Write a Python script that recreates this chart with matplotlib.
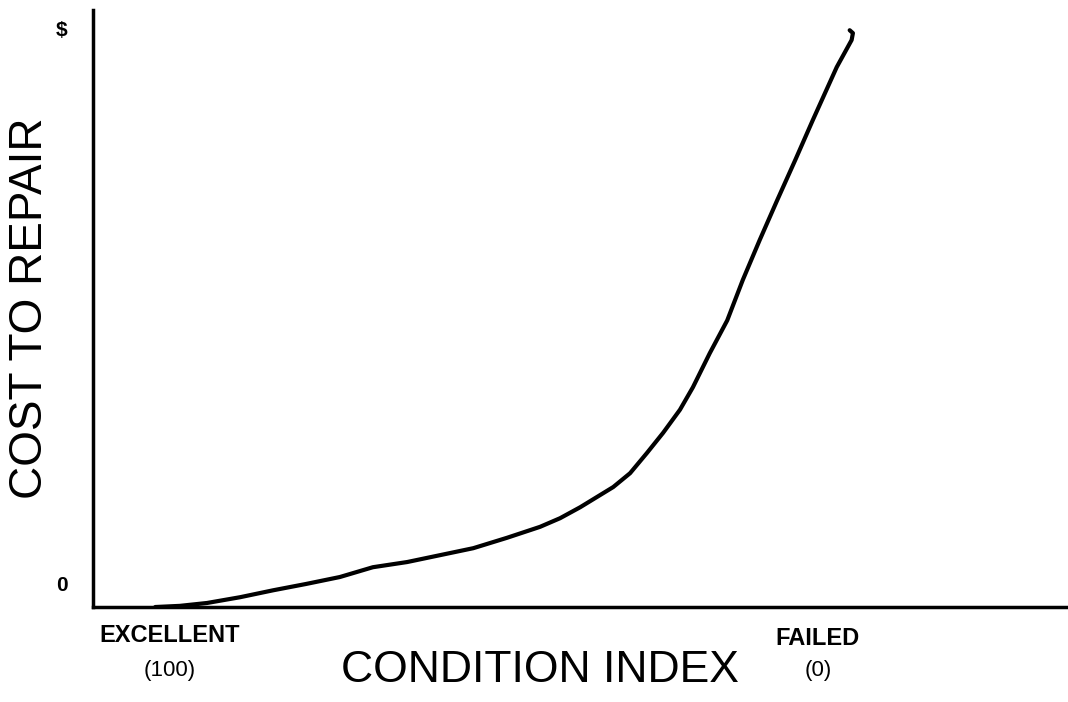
#cost to repair vs condition index sketch
import matplotlib
matplotlib.use("Agg")
import matplotlib.pyplot as plt

plt.rcParams['font.family'] = ['Liberation Sans', 'DejaVu Sans']

# condition index (100 = excellent, 0 = failed) and relative cost to repair ($ = 1)
condition_index = [102.3, 98.5, 94.3, 89.2, 84.1, 79.0, 73.8, 68.7, 63.4, 58.3,
                   53.2, 48.0, 42.9, 39.8, 36.7, 31.6, 29.0, 26.4, 23.9, 21.3,
                   19.3, 16.7, 14.0, 11.6, 9.0, 6.3, 3.5, 0.8, -2.9, -5.2,
                   -5.4, -4.9]
repair_cost = [0.0, 0.002, 0.007, 0.017, 0.029, 0.040, 0.052, 0.069, 0.078, 0.090,
               0.102, 0.120, 0.139, 0.154, 0.173, 0.208, 0.232, 0.267, 0.302, 0.342,
               0.381, 0.440, 0.497, 0.567, 0.636, 0.705, 0.775, 0.844, 0.936, 0.983,
               0.995, 1.0]

fig = plt.figure(figsize=(10.68, 7.02), dpi=100)
ax = fig.add_axes([0.0871, 0.1353, 0.9129, 0.8504])

ax.plot(condition_index, repair_cost, color="black", lw=3.0,
        solid_capstyle="round", solid_joinstyle="round")

ax.set_xlim(111.9, -38.6)
ax.set_ylim(0, 1.035)
ax.set_xticks([])
ax.set_yticks([])
for s in ["top", "right"]:
    ax.spines[s].set_visible(False)
for s in ["left", "bottom"]:
    ax.spines[s].set_linewidth(2.5)

# end labels
ytr = ax.get_yaxis_transform()
xtr = ax.get_xaxis_transform()
ax.text(-0.032, 1.0, "$", transform=ytr, ha="center", va="center", fontsize=15, fontweight="bold")
ax.text(-0.032, 0.038, "0", transform=ytr, ha="center", va="center", fontsize=15, fontweight="bold")

ax.text(100, -0.048, "EXCELLENT", transform=xtr, ha="center", va="center", fontsize=17, fontweight="bold")
ax.text(100, -0.106, "(100)", transform=xtr, ha="center", va="center", fontsize=16)
ax.text(0, -0.052, "FAILED", transform=xtr, ha="center", va="center", fontsize=17, fontweight="bold")
ax.text(0, -0.106, "(0)", transform=xtr, ha="center", va="center", fontsize=16)

fig.text(540/1068, 1-671/702, "CONDITION INDEX", ha="center", va="center", fontsize=32)
fig.text(30/1068, 1-308/702, "COST TO REPAIR", ha="center", va="center", rotation=90, fontsize=33)

plt.savefig("out.png", dpi=100)
